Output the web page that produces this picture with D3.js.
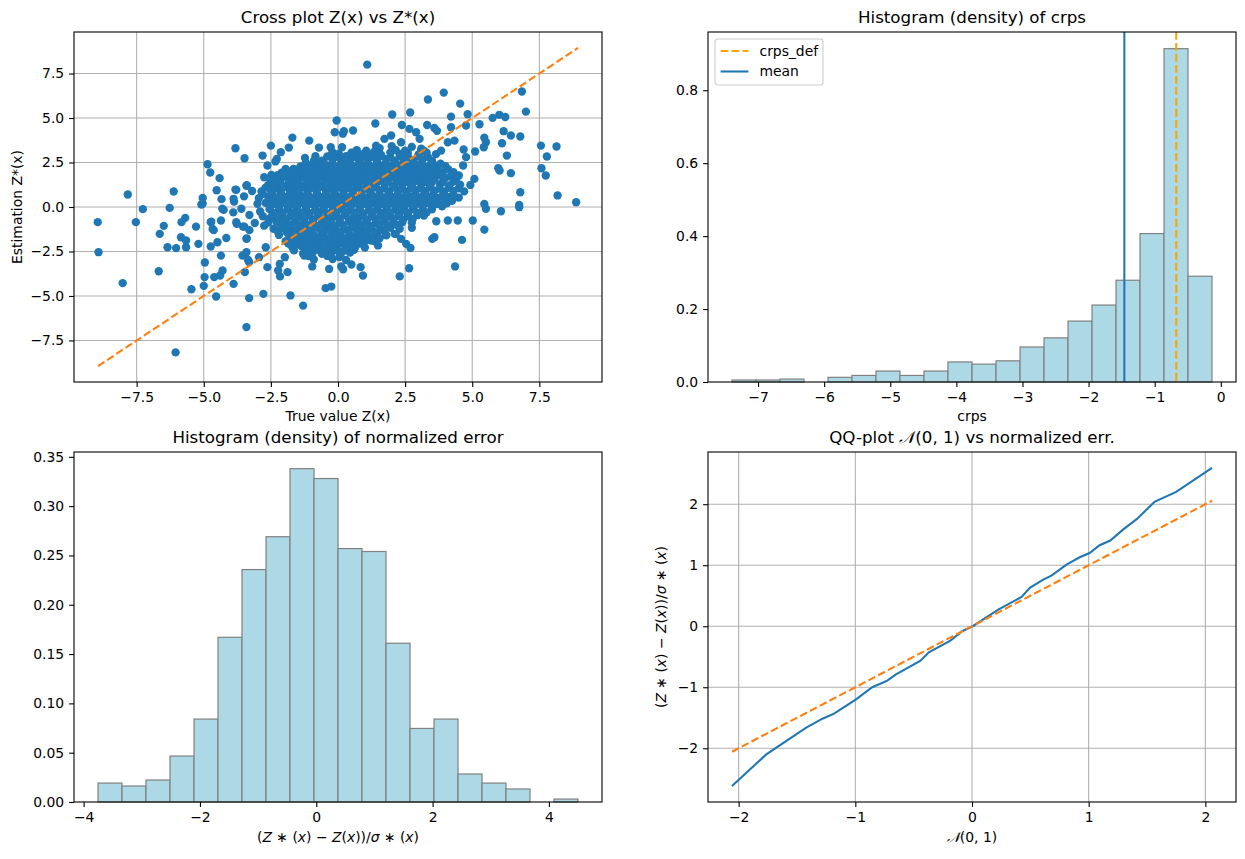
<!DOCTYPE html>
<html>
<head>
<meta charset="utf-8">
<script src="https://cdn.jsdelivr.net/npm/d3@7"></script>
<style>
  body { margin: 0; background: #fff; }
  svg { display: block; }
  text { font-family: "DejaVu Sans", sans-serif; fill: #000; white-space: pre; }
</style>
</head>
<body>
<div id="figure"></div>
<script>
// ---- data ----

// cross plot: [true value Z(x), estimation Z*(x)]
var crossPts = [
  // dense core
  [1.55,3.3],[2.0,3.42],[2.75,3.38],[3.1,3.28],
  [0.5,3.05],[0.85,2.95],[1.3,3.02],[1.6,2.94],[1.95,3.06],[2.3,2.98],[2.6,3.04],[3.0,2.95],[3.3,3.05],[3.65,2.97],
  [-0.6,2.6],[-0.2,2.7],[0.15,2.62],[0.45,2.68],[0.8,2.6],[1.1,2.7],[1.45,2.63],[1.8,2.69],[2.1,2.6],[2.45,2.7],[2.8,2.64],[3.15,2.68],[3.5,2.6],
  [-1.4,2.28],[-1.05,2.34],[-0.7,2.26],[-0.4,2.33],[-0.05,2.27],[0.3,2.35],[0.6,2.28],[0.95,2.32],[1.3,2.25],[1.6,2.34],[1.95,2.28],[2.3,2.33],[2.6,2.26],[2.95,2.35],[3.3,2.27],[3.65,2.32],[4.0,2.3],
  [-2.1,1.93],[-1.8,1.98],[-1.45,1.9],[-1.1,1.97],[-0.8,1.92],[-0.45,1.99],[-0.1,1.91],[0.2,1.96],[0.55,1.93],[0.9,1.99],[1.2,1.92],[1.55,1.97],[1.9,1.9],[2.2,1.98],[2.55,1.93],[2.9,1.96],[3.2,1.91],[3.55,1.99],[3.9,1.93],[4.3,1.96],
  [-2.4,1.58],[-2.1,1.63],[-1.75,1.57],[-1.4,1.62],[-1.05,1.56],[-0.75,1.64],[-0.4,1.58],[-0.05,1.61],[0.3,1.57],[0.6,1.63],[0.95,1.58],[1.3,1.62],[1.6,1.56],[1.95,1.64],[2.3,1.59],[2.6,1.61],[2.95,1.56],[3.3,1.63],[3.6,1.58],[4.0,1.62],[4.4,1.57],
  [-2.6,1.23],[-2.25,1.28],[-1.9,1.22],[-1.6,1.27],[-1.25,1.21],[-0.9,1.29],[-0.6,1.23],[-0.25,1.26],[0.1,1.22],[0.4,1.28],[0.75,1.24],[1.1,1.27],[1.4,1.21],[1.75,1.28],[2.1,1.23],[2.4,1.26],[2.75,1.22],[3.1,1.29],[3.45,1.24],[3.8,1.27],[4.15,1.21],[4.55,1.26],
  [-2.85,0.88],[-2.5,0.93],[-2.15,0.87],[-1.8,0.92],[-1.5,0.86],[-1.15,0.94],[-0.8,0.88],[-0.45,0.91],[-0.15,0.87],[0.2,0.93],[0.55,0.89],[0.9,0.92],[1.2,0.86],[1.55,0.93],[1.9,0.88],[2.25,0.91],[2.55,0.87],[2.9,0.94],[3.25,0.89],[3.6,0.92],[3.95,0.86],[4.3,0.91],[4.7,0.88],
  [-2.6,0.58],[-2.3,0.52],[-1.95,0.57],[-1.6,0.51],[-1.3,0.59],[-0.95,0.53],[-0.6,0.56],[-0.3,0.52],[0.05,0.58],[0.4,0.54],[0.7,0.57],[1.05,0.51],[1.4,0.58],[1.7,0.53],[2.05,0.56],[2.4,0.52],[2.7,0.59],[3.05,0.54],[3.4,0.57],[3.75,0.51],[4.1,0.56],[4.5,0.53],
  [-3.0,0.18],[-2.7,0.23],[-2.35,0.17],[-2.0,0.22],[-1.7,0.16],[-1.35,0.24],[-1.0,0.18],[-0.7,0.21],[-0.35,0.17],[0.0,0.23],[0.3,0.19],[0.65,0.22],[1.0,0.16],[1.3,0.23],[1.65,0.18],[2.0,0.21],[2.3,0.17],[2.65,0.24],[3.0,0.19],[3.3,0.22],[3.7,0.16],[4.05,0.21],
  [-2.55,-0.12],[-2.2,-0.18],[-1.85,-0.13],[-1.55,-0.19],[-1.2,-0.11],[-0.85,-0.17],[-0.55,-0.14],[-0.2,-0.18],[0.15,-0.12],[0.45,-0.16],[0.8,-0.13],[1.15,-0.19],[1.45,-0.12],[1.8,-0.17],[2.15,-0.14],[2.45,-0.18],[2.8,-0.11],[3.15,-0.16],[3.5,-0.13],
  [-2.8,-0.52],[-2.45,-0.47],[-2.1,-0.53],[-1.75,-0.48],[-1.45,-0.54],[-1.1,-0.46],[-0.75,-0.52],[-0.4,-0.49],[-0.1,-0.53],[0.25,-0.47],[0.6,-0.51],[0.9,-0.48],[1.25,-0.54],[1.6,-0.47],[1.9,-0.52],[2.25,-0.49],[2.6,-0.53],[2.95,-0.46],
  [-2.6,-0.87],[-2.3,-0.82],[-1.95,-0.88],[-1.6,-0.83],[-1.3,-0.89],[-0.95,-0.81],[-0.6,-0.87],[-0.3,-0.84],[0.05,-0.88],[0.4,-0.82],[0.7,-0.86],[1.05,-0.83],[1.4,-0.89],[1.7,-0.82],[2.05,-0.87],[2.4,-0.84],[2.75,-0.88],
  [-2.4,-1.22],[-2.05,-1.17],[-1.75,-1.23],[-1.4,-1.18],[-1.1,-1.24],[-0.75,-1.16],[-0.4,-1.22],[-0.1,-1.19],[0.25,-1.23],[0.6,-1.17],[0.9,-1.21],[1.25,-1.18],[1.6,-1.24],[1.95,-1.17],[2.3,-1.22],
  [-2.2,-1.57],[-1.85,-1.52],[-1.55,-1.58],[-1.2,-1.53],[-0.9,-1.59],[-0.55,-1.51],[-0.2,-1.57],[0.1,-1.54],[0.45,-1.58],[0.8,-1.52],[1.1,-1.56],[1.45,-1.53],[1.8,-1.59],[2.15,-1.52],
  [-1.95,-1.92],[-1.6,-1.87],[-1.3,-1.93],[-0.95,-1.88],[-0.65,-1.94],[-0.3,-1.86],[0.05,-1.92],[0.35,-1.89],[0.7,-1.93],[1.05,-1.87],[1.35,-1.91],
  [-1.7,-2.27],[-1.35,-2.22],[-1.0,-2.28],[-0.7,-2.23],[-0.35,-2.29],[-0.05,-2.21],[0.3,-2.27],[0.65,-2.24],[1.0,-2.28],
  [-1.3,-2.62],[-0.95,-2.57],[-0.6,-2.63],[-0.25,-2.58],[0.1,-2.64],[0.45,-2.56],
  [-0.9,-2.95],[-0.2,-2.92],[0.3,-2.98],
  // dense core, in-between points
  [0.7,3.2],[1.05,3.16],[1.4,3.21],[2.15,3.2],[2.5,3.17],[3.2,3.16],
  [-0.4,2.84],[0.0,2.8],[0.3,2.85],[0.65,2.79],[0.95,2.83],[1.3,2.8],[1.62,2.86],[1.95,2.8],[2.3,2.84],[2.62,2.79],[3.0,2.83],[3.35,2.8],
  [-1.2,2.49],[-0.85,2.45],[-0.55,2.5],[-0.2,2.44],[0.12,2.48],[0.45,2.45],[0.8,2.5],[1.12,2.44],[1.45,2.49],[1.78,2.45],[2.12,2.48],[2.45,2.44],[2.78,2.5],[3.1,2.45],[3.48,2.49],[3.82,2.44],
  [-1.95,2.14],[-1.6,2.1],[-1.25,2.15],[-0.95,2.09],[-0.6,2.13],[-0.25,2.1],[0.05,2.15],[0.4,2.1],[0.72,2.14],[1.05,2.09],[1.38,2.13],[1.72,2.1],[2.05,2.15],[2.38,2.1],[2.72,2.13],[3.05,2.09],[3.38,2.14],[3.72,2.1],[4.1,2.13],
  [-2.25,1.79],[-1.92,1.75],[-1.6,1.8],[-1.25,1.74],[-0.9,1.78],[-0.6,1.75],[-0.25,1.8],[0.1,1.75],[0.45,1.79],[0.78,1.74],[1.12,1.78],[1.45,1.75],[1.78,1.8],[2.12,1.74],[2.45,1.79],[2.78,1.75],[3.12,1.78],[3.45,1.74],[3.8,1.8],[4.2,1.75],
  [-2.5,1.44],[-2.15,1.4],[-1.82,1.45],[-1.5,1.39],[-1.15,1.43],[-0.82,1.4],[-0.5,1.45],[-0.15,1.4],[0.2,1.44],[0.52,1.39],[0.85,1.43],[1.2,1.4],[1.52,1.45],[1.85,1.39],[2.2,1.44],[2.52,1.4],[2.85,1.43],[3.2,1.39],[3.52,1.45],[3.9,1.4],[4.3,1.43],
  [-2.7,1.09],[-2.38,1.05],[-2.05,1.1],[-1.7,1.04],[-1.38,1.08],[-1.05,1.05],[-0.7,1.1],[-0.35,1.04],[0.0,1.09],[0.35,1.05],[0.68,1.08],[1.02,1.04],[1.38,1.1],[1.72,1.05],[2.05,1.09],[2.38,1.04],[2.72,1.08],[3.08,1.05],[3.42,1.1],[3.78,1.04],[4.12,1.08],[4.5,1.05],
  [-2.8,0.74],[-2.45,0.7],[-2.12,0.75],[-1.78,0.69],[-1.45,0.73],[-1.12,0.7],[-0.78,0.75],[-0.45,0.7],[-0.12,0.74],[0.22,0.69],[0.55,0.73],[0.88,0.7],[1.22,0.75],[1.55,0.69],[1.88,0.74],[2.22,0.7],[2.55,0.73],[2.88,0.69],[3.22,0.75],[3.55,0.7],[3.92,0.74],[4.3,0.7],
  [-2.5,0.35],[-2.18,0.4],[-1.85,0.34],[-1.52,0.38],[-1.18,0.35],[-0.85,0.4],[-0.52,0.35],[-0.18,0.39],[0.15,0.34],[0.48,0.38],[0.82,0.35],[1.15,0.4],[1.48,0.34],[1.82,0.39],[2.15,0.35],[2.48,0.38],[2.82,0.34],[3.15,0.4],[3.5,0.35],[3.88,0.39],[4.25,0.35],
  [-2.52,0.0],[-2.18,0.05],[-1.85,-0.01],[-1.52,0.03],[-1.18,0.0],[-0.85,0.05],[-0.52,0.0],[-0.18,0.04],[0.15,-0.01],[0.48,0.03],[0.82,0.0],[1.15,0.05],[1.48,-0.01],[1.82,0.04],[2.15,0.0],[2.48,0.03],[2.82,-0.01],[3.15,0.05],[3.5,0.0],[3.88,0.04],
  [-2.38,-0.35],[-2.05,-0.3],[-1.7,-0.36],[-1.38,-0.32],[-1.05,-0.35],[-0.7,-0.3],[-0.38,-0.36],[-0.05,-0.31],[0.3,-0.35],[0.62,-0.32],[0.95,-0.36],[1.3,-0.3],[1.62,-0.35],[1.95,-0.31],[2.3,-0.36],[2.62,-0.32],[2.98,-0.35],[3.3,-0.3],
  [-2.55,-0.66],[-2.22,-0.7],[-1.9,-0.65],[-1.58,-0.71],[-1.25,-0.67],[-0.92,-0.7],[-0.58,-0.65],[-0.25,-0.71],[0.08,-0.66],[0.42,-0.7],[0.75,-0.67],[1.08,-0.71],[1.42,-0.65],[1.75,-0.7],[2.08,-0.66],[2.42,-0.71],[2.78,-0.67],
  [-2.12,-1.05],[-1.8,-1.0],[-1.48,-1.06],[-1.15,-1.02],[-0.82,-1.05],[-0.48,-1.0],[-0.15,-1.06],[0.18,-1.01],[0.52,-1.05],[0.85,-1.02],[1.18,-1.06],[1.52,-1.0],[1.85,-1.05],[2.2,-1.01],
  [-2.25,-1.36],[-1.92,-1.4],[-1.6,-1.35],[-1.28,-1.41],[-0.95,-1.37],[-0.62,-1.4],[-0.28,-1.35],[0.05,-1.41],[0.38,-1.36],[0.72,-1.4],[1.05,-1.37],[1.38,-1.41],[1.72,-1.35],
  [-1.72,-1.75],[-1.4,-1.7],[-1.08,-1.76],[-0.75,-1.72],[-0.42,-1.75],[-0.1,-1.7],[0.22,-1.76],[0.55,-1.71],[0.88,-1.75],[1.2,-1.72],[1.55,-1.76],
  [-1.85,-2.06],[-1.52,-2.1],[-1.18,-2.05],[-0.85,-2.11],[-0.52,-2.07],[-0.2,-2.1],[0.15,-2.05],[0.48,-2.11],[0.82,-2.06],
  [-1.15,-2.45],[-0.8,-2.4],[-0.45,-2.46],[-0.1,-2.42],[0.25,-2.45],[0.6,-2.4],
  [-1.1,-2.76],[-0.4,-2.75],[0.05,-2.81],
  // upper left
  [-7.83,0.70],[-6.12,0.87],[-7.27,-0.12],[-6.27,-0.05],[-4.86,2.40],[-4.76,1.94],[-4.41,1.62],[-4.52,0.94],[-4.34,0.44],
  [-5.04,0.51],[-5.09,0.14],[-3.82,3.30],[-3.48,2.74],[-3.82,0.98],[-3.89,0.46],[-3.41,1.19],[-2.50,3.45],[-2.81,2.89],
  [-2.33,2.56],[-2.63,2.33],[-2.13,3.08],[-1.83,3.34],[-1.70,3.90],[-1.07,3.73],[-0.71,3.34],[-1.23,2.76],[-0.84,2.85],
  [-0.89,2.61],[-0.27,3.36],[-0.21,3.08],[-0.05,4.86],[-0.12,4.20],[-2.75,1.67],[-2.48,1.80],[-1.70,1.86],[-1.29,2.14],
  [-1.14,1.77],[-2.28,2.7],[-1.66,2.14],[-3.4,1.22],[-3.79,0.96],[-5.04,0.19],[-3.5,0.6],[-3.2,0.9],
  // upper right
  [1.09,8.0],[3.94,6.43],[3.35,6.04],[4.55,5.81],[6.85,6.49],[7.0,5.36],[2.02,5.20],[2.69,5.31],[1.39,4.69],[4.21,5.08],
  [4.83,5.21],[4.77,4.58],[5.27,4.65],[5.76,5.01],[6.01,5.18],[6.23,5.06],[2.38,4.61],[2.66,4.39],[3.32,4.61],[3.59,4.44],
  [3.69,4.28],[4.21,4.48],[0.22,4.26],[0.56,4.30],[6.17,4.26],[6.44,4.02],[6.79,3.96],[5.45,3.90],[5.51,3.64],[6.11,3.58],
  [5.43,3.36],[7.56,3.45],[8.14,3.40],[7.78,2.84],[6.29,2.89],[5.97,2.18],[6.02,2.05],[7.58,2.18],[7.74,1.77],[6.44,1.90],
  [6.79,0.83],[8.18,0.65],[8.87,0.27],[6.75,0.12],[5.45,0.17],[5.08,1.58],[4.93,1.24],[4.68,3.23],[4.77,2.80],[5.11,3.12],
  [4.34,3.73],[4.09,3.64],[4.66,2.33],[4.50,1.77],[1.98,4.02],[1.73,3.83],[1.42,3.45],[1.36,3.08],[1.20,2.85],[0.52,3.04],
  [0.15,3.36],[2.35,3.64],[2.91,4.20],[3.04,3.83],[3.84,3.17],[3.10,3.17],[0.18,4.12],[0.03,3.0],
  // lower left
  [-8.95,-0.85],[-8.92,-2.54],[-8.02,-4.28],[-7.53,-0.85],[-6.68,-3.61],[-6.49,-1.06],[-6.64,-1.51],[-6.35,-2.26],[-6.03,-2.31],
  [-6.05,-8.17],[-5.83,-0.85],[-5.69,-0.61],[-5.85,-1.70],[-5.66,-1.88],[-5.66,-2.26],[-5.29,-1.10],[-5.20,-2.07],[-5.46,-4.62],
  [-5.0,-4.43],[-4.97,-3.94],[-4.96,-3.12],[-4.74,-0.85],[-4.67,-1.23],[-4.74,-2.22],[-4.49,-1.98],[-4.54,-5.03],[-4.61,-3.94],
  [-4.39,-3.85],[-4.30,-3.57],[-4.36,-2.73],[-4.16,-1.74],[-4.36,-0.76],[-4.26,-0.16],[-3.89,-4.32],[-3.77,-0.95],[-3.49,-1.10],
  [-3.41,-1.79],[-3.47,-3.66],[-3.31,-5.12],[-3.41,-6.75],[-3.56,-2.73],[-3.41,-2.54],[-3.31,-3.1],[-2.94,-2.82],[-2.78,-4.88],
  [-2.63,-3.38],[-2.69,-2.26],[-2.23,-3.57],[-2.16,-3.9],[-1.88,-3.66],[-1.77,-4.97],[-1.30,-5.54],[-0.96,-3.34],[-0.33,-3.48],
  [-0.46,-4.56],[-0.25,-4.47],[-1.98,-2.82],[-1.64,-2.44],[-1.26,-2.73],[-4.72,-0.83],[-4.63,-1.3],[-4.31,-0.1],[-3.87,0.3],
  [-3.79,-0.85],[-3.54,-1.1],[-3.4,-1.76],[-3.35,-2.98],[-2.17,-3.2],[-3.9,-0.3],[-3.6,-0.1],[-3.3,-0.45],[-3.3,-1.3],[-3.1,-0.9],
  [-2.95,0.5],[-2.9,-0.25],[-2.75,-1.05],
  // lower right
  [0.12,-3.34],[0.50,-3.23],[0.84,-3.38],[0.93,-3.85],[2.30,-3.9],[2.65,-3.44],[4.36,-3.34],[4.62,-1.85],[5.45,-1.27],[3.51,-1.79],
  [3.59,-1.70],[2.70,-2.3],[1.49,-2.16],[0.5,-2.35],[6.07,-0.24],[6.75,-0.01],[5.51,-0.1],[5.02,-0.76],[4.46,-0.76],[4.09,-0.76],
  [3.66,-0.8],[2.75,-1.17],[2.35,-1.79],[2.54,-2.07],[2.11,-1.51],[0.81,-1.79],[1.24,-1.88],[0.31,-2.07],[0.0,-2.44],[3.2,-0.48],
  [0.19,-3.5]
];
var diagEnds = [-8.94, 8.94];
var crossTicks = [-7.5, -5, -2.5, 0, 2.5, 5, 7.5];

// crps histogram (density)
var crpsEdges = [-7.394, -7.031, -6.668, -6.305, -5.942, -5.579, -5.216, -4.853, -4.490, -4.127, -3.763,
                 -3.400, -3.037, -2.674, -2.311, -1.948, -1.585, -1.222, -0.859, -0.496, -0.133];
var crpsDensity = [0.0055, 0.0055, 0.008, 0, 0.0128, 0.018, 0.030, 0.018, 0.030, 0.055,
                   0.049, 0.058, 0.096, 0.121, 0.167, 0.211, 0.279, 0.407, 0.914, 0.290];
var crpsDef = -0.674;
var crpsMean = -1.459;
var crpsXTicks = [-7, -6, -5, -4, -3, -2, -1, 0];
var crpsYTicks = [0, 0.2, 0.4, 0.6, 0.8];

// normalized error histogram (density)
var errEdges = [-3.753, -3.340, -2.928, -2.515, -2.102, -1.690, -1.277, -0.864, -0.452, -0.039, 0.374,
                0.786, 1.199, 1.612, 2.024, 2.437, 2.850, 3.262, 3.675, 4.087, 4.500];
var errDensity = [0.0192, 0.0162, 0.0223, 0.0466, 0.0841, 0.167, 0.2357, 0.269, 0.338, 0.328,
                  0.257, 0.254, 0.161, 0.0746, 0.0841, 0.0284, 0.0192, 0.0132, 0, 0.003];
var errXTicks = [-4, -2, 0, 2, 4];
var errYTicks = [0, 0.05, 0.1, 0.15, 0.2, 0.25, 0.3, 0.35];

// QQ plot
var qqTheo = [-2.057, -1.766, -1.424, -1.282, -1.182, -0.997, -0.855, -0.726, -0.655, -0.441, -0.37, -0.185, -0.085, 0.006,
              0.225, 0.425, 0.496, 0.61, 0.681, 0.81, 0.923, 1.008, 1.094, 1.185, 1.294, 1.414, 1.564, 1.75, 2.057];
var qqSample = [-2.62, -2.105, -1.667, -1.515, -1.433, -1.203, -1.0, -0.892, -0.793, -0.564, -0.426, -0.236, -0.082, 0.0,
                0.272, 0.48, 0.628, 0.764, 0.83, 1.01, 1.13, 1.20, 1.328, 1.404, 1.584, 1.759, 2.038, 2.202, 2.595];
var qqRef = [-2.057, 2.057];
var qqTicks = [-2, -1, 0, 1, 2];

// ---- figure ----
var svgWidth = 1245;
var svgHeight = 859;
var panelW = 528;
var panelH = 350;
var tickFont = 13.9;
var titleFont = 16.7;
var blue = "#1f77b4", orange = "#ff7f0e";
var dashes = "7.7,3.3";

var svg = d3.select("#figure")
  .append("svg")
  .attr("width", svgWidth)
  .attr("height", svgHeight);

svg.append("rect").attr("width", svgWidth).attr("height", svgHeight).attr("fill", "#fff");

function padDomain(lo, hi) {
  var m = (hi - lo) * 0.05;
  return [lo - m, hi + m];
}

function panel(left, top) {
  return svg.append("g").attr("transform", `translate(${left}, ${top})`);
}

function styleAxis(ax) {
  ax.select(".domain").remove();
  ax.attr("font-family", null).attr("font-size", null);
  ax.selectAll(".tick line").attr("stroke", "#000").attr("stroke-width", 1.1);
  ax.selectAll(".tick text").attr("font-size", tickFont).attr("fill", "#000");
}

function drawAxes(g, x, y, xTicks, yTicks, xFmt, yFmt) {
  var ax = g.append("g")
    .attr("transform", `translate(0, ${panelH})`)
    .call(d3.axisBottom(x).tickValues(xTicks).tickFormat(xFmt).tickSize(4.9).tickPadding(4.9));
  styleAxis(ax);
  var ay = g.append("g")
    .call(d3.axisLeft(y).tickValues(yTicks).tickFormat(yFmt).tickSize(4.9).tickPadding(4.9));
  styleAxis(ay);
}

function drawGrid(g, x, y, xTicks, yTicks) {
  var grid = g.append("g").attr("stroke", "#b0b0b0").attr("stroke-width", 1.1);
  grid.selectAll(".gx").data(xTicks).enter().append("line")
    .attr("x1", d => x(d)).attr("x2", d => x(d)).attr("y1", 0).attr("y2", panelH);
  grid.selectAll(".gy").data(yTicks).enter().append("line")
    .attr("x1", 0).attr("x2", panelW).attr("y1", d => y(d)).attr("y2", d => y(d));
}

function drawFrame(g) {
  g.append("rect")
    .attr("width", panelW).attr("height", panelH)
    .attr("fill", "none").attr("stroke", "#000").attr("stroke-width", 1.1);
}

function drawTitle(g, txt) {
  return g.append("text")
    .attr("x", panelW / 2).attr("y", -9)
    .attr("text-anchor", "middle")
    .attr("font-size", titleFont)
    .text(txt);
}

function drawHist(g, x, y, edges, dens) {
  g.append("g").selectAll("rect")
    .data(dens)
    .enter()
    .append("rect")
    .attr("x", (d, i) => x(edges[i]))
    .attr("width", (d, i) => x(edges[i + 1]) - x(edges[i]))
    .attr("y", d => y(d))
    .attr("height", d => panelH - y(d))
    .attr("fill", "#add8e6")
    .attr("stroke", "#808080")
    .attr("stroke-width", 1.2);
}

// (Z*(x) - Z(x))/sigma*(x) in math style
function mathErr(t) {
  var parts = [["(", 0], ["Z", 1], [" \u2217 (", 0], ["x", 1], [") \u2212 ", 0], ["Z", 1], ["(", 0], ["x", 1],
               ["))/", 0], ["\u03c3", 1], [" \u2217 (", 0], ["x", 1], [")", 0]];
  parts.forEach(p => t.append("tspan").attr("font-style", p[1] ? "italic" : null).text(p[0]));
}

function calN(t) {
  t.append("tspan").attr("font-family", "'DejaVu Serif', 'Liberation Serif', serif").attr("font-style", "italic").text("\ud835\udca9");
}

// ---- panel 1: cross plot ----
var g1 = panel(74, 32);
var x1 = d3.scaleLinear().domain(padDomain(diagEnds[0], diagEnds[1])).range([0, panelW]);
var y1 = d3.scaleLinear().domain(padDomain(diagEnds[0], diagEnds[1])).range([panelH, 0]);
drawGrid(g1, x1, y1, crossTicks, crossTicks);
g1.append("g").selectAll("circle")
  .data(crossPts)
  .enter()
  .append("circle")
  .attr("cx", d => x1(d[0]))
  .attr("cy", d => y1(d[1]))
  .attr("r", 4.17)
  .attr("fill", blue);
g1.append("line")
  .attr("x1", x1(diagEnds[0])).attr("y1", y1(diagEnds[0]))
  .attr("x2", x1(diagEnds[1])).attr("y2", y1(diagEnds[1]))
  .attr("stroke", orange).attr("stroke-width", 2.08).attr("stroke-dasharray", dashes);
drawAxes(g1, x1, y1, crossTicks, crossTicks, d3.format(".1f"), d3.format(".1f"));
drawFrame(g1);
drawTitle(g1, "Cross plot Z(x) vs Z*(x)");
g1.append("text").attr("x", panelW / 2).attr("y", panelH + 39)
  .attr("text-anchor", "middle").attr("font-size", tickFont).text("True value Z(x)");
g1.append("text").attr("transform", `translate(-52, ${panelH / 2}) rotate(-90)`)
  .attr("text-anchor", "middle").attr("font-size", tickFont).text("Estimation Z*(x)");

// ---- panel 2: crps histogram ----
var g2 = panel(708, 32);
var x2 = d3.scaleLinear().domain(padDomain(crpsEdges[0], crpsEdges[crpsEdges.length - 1])).range([0, panelW]);
var y2 = d3.scaleLinear().domain([0, d3.max(crpsDensity) * 1.05]).range([panelH, 0]);
drawHist(g2, x2, y2, crpsEdges, crpsDensity);
g2.append("line")
  .attr("x1", x2(crpsDef)).attr("x2", x2(crpsDef)).attr("y1", 0).attr("y2", panelH)
  .attr("stroke", "#ffa500").attr("stroke-width", 2.08).attr("stroke-dasharray", dashes);
g2.append("line")
  .attr("x1", x2(crpsMean)).attr("x2", x2(crpsMean)).attr("y1", 0).attr("y2", panelH)
  .attr("stroke", blue).attr("stroke-width", 2.08);
drawAxes(g2, x2, y2, crpsXTicks, crpsYTicks, d3.format("d"), d3.format(".1f"));
drawFrame(g2);
drawTitle(g2, "Histogram (density) of crps");
g2.append("text").attr("x", panelW / 2).attr("y", panelH + 39)
  .attr("text-anchor", "middle").attr("font-size", tickFont).text("crps");

// legend
var legend = g2.append("g").attr("transform", "translate(7, 7)");
legend.append("rect")
  .attr("width", 108).attr("height", 46).attr("rx", 2.8)
  .attr("fill", "#fff").attr("fill-opacity", 0.8)
  .attr("stroke", "#cccccc").attr("stroke-width", 1.1);
var legendItems = [["crps_def", "#ffa500", dashes], ["mean", blue, null]];
legendItems.forEach(function(item, i) {
  var cy = 12 + i * 20.5;
  legend.append("line")
    .attr("x1", 5.6).attr("x2", 33.4).attr("y1", cy).attr("y2", cy)
    .attr("stroke", item[1]).attr("stroke-width", 2.08).attr("stroke-dasharray", item[2]);
  legend.append("text").attr("x", 44.5).attr("y", cy).attr("dy", "0.35em")
    .attr("font-size", tickFont).text(item[0]);
});

// ---- panel 3: normalized error histogram ----
var g3 = panel(74, 452);
var x3 = d3.scaleLinear().domain(padDomain(errEdges[0], errEdges[errEdges.length - 1])).range([0, panelW]);
var y3 = d3.scaleLinear().domain([0, d3.max(errDensity) * 1.05]).range([panelH, 0]);
drawHist(g3, x3, y3, errEdges, errDensity);
drawAxes(g3, x3, y3, errXTicks, errYTicks, d3.format("d"), d3.format(".2f"));
drawFrame(g3);
drawTitle(g3, "Histogram (density) of normalized error");
var xl3 = g3.append("text").attr("x", panelW / 2).attr("y", panelH + 40)
  .attr("text-anchor", "middle").attr("font-size", tickFont);
mathErr(xl3);

// ---- panel 4: QQ plot ----
var g4 = panel(708, 452);
var x4 = d3.scaleLinear().domain(padDomain(d3.min(qqTheo), d3.max(qqTheo))).range([0, panelW]);
var y4 = d3.scaleLinear().domain(padDomain(d3.min(qqSample), d3.max(qqSample))).range([panelH, 0]);
drawGrid(g4, x4, y4, qqTicks, qqTicks);
var qqLine = d3.line()
  .x((d, i) => x4(qqTheo[i]))
  .y(d => y4(d));
g4.append("path")
  .datum(qqSample)
  .attr("d", qqLine)
  .attr("fill", "none").attr("stroke", blue).attr("stroke-width", 2.08);
g4.append("line")
  .attr("x1", x4(qqRef[0])).attr("y1", y4(qqRef[0]))
  .attr("x2", x4(qqRef[1])).attr("y2", y4(qqRef[1]))
  .attr("stroke", orange).attr("stroke-width", 2.08).attr("stroke-dasharray", dashes);
drawAxes(g4, x4, y4, qqTicks, qqTicks, d3.format("d"), d3.format("d"));
drawFrame(g4);
var t4 = drawTitle(g4, "");
t4.append("tspan").text("QQ-plot ");
calN(t4);
t4.append("tspan").text("(0, 1) vs normalized err.");
var xl4 = g4.append("text").attr("x", panelW / 2).attr("y", panelH + 40)
  .attr("text-anchor", "middle").attr("font-size", tickFont);
calN(xl4);
xl4.append("tspan").text("(0, 1)");
var yl4 = g4.append("text").attr("transform", `translate(-42, ${panelH / 2}) rotate(-90)`)
  .attr("text-anchor", "middle").attr("font-size", tickFont);
mathErr(yl4);
</script>
</body>
</html>
